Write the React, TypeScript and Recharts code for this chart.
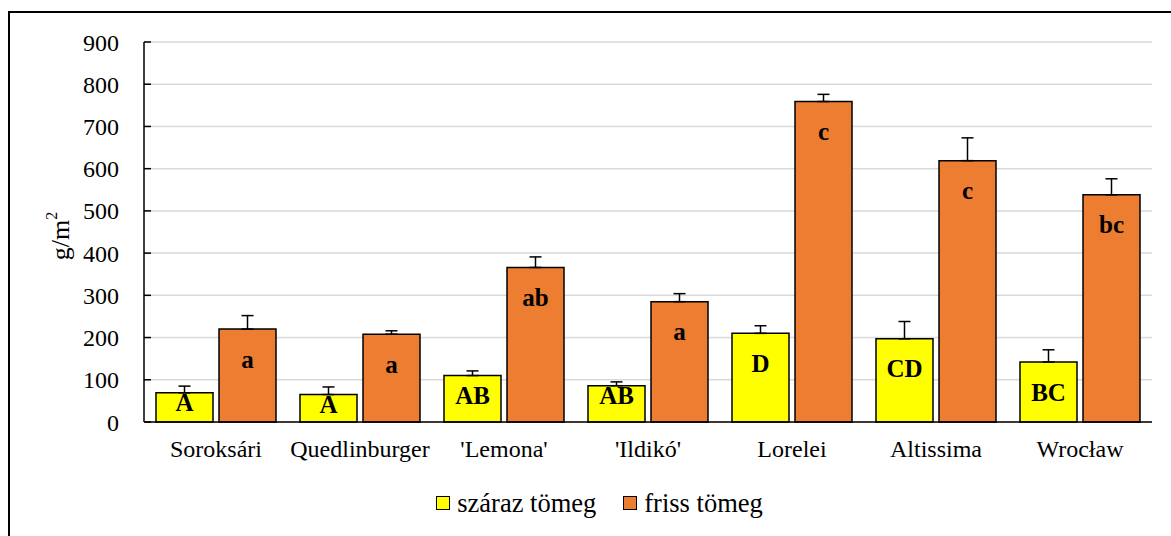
import React from "react";
import {
  BarChart,
  Bar,
  XAxis,
  YAxis,
  CartesianGrid,
  ErrorBar,
  LabelList,
  Legend,
} from "recharts";

const cultivars = [
  "Soroksári",
  "Quedlinburger",
  "'Lemona'",
  "'Ildikó'",
  "Lorelei",
  "Altissima",
  "Wrocław",
];
const dryMass = [69, 65, 110, 86, 210, 197, 142];
const dryErr = [16, 18, 11, 9, 18, 41, 29];
const dryLetters = ["A", "A", "AB", "AB", "D", "CD", "BC"];
const freshMass = [220, 208, 366, 285, 759, 619, 538];
const freshErr = [32, 8, 25, 19, 17, 54, 38];
const freshLetters = ["a", "a", "ab", "a", "c", "c", "bc"];
const yTicks = [0, 100, 200, 300, 400, 500, 600, 700, 800, 900];

const DRY = "#FFFF00";
const FRESH = "#ED7D31";
const FONT = '"Liberation Serif", "DejaVu Serif", serif';

const data = cultivars.map((name, i) => ({
  name,
  pos: i + 0.5,
  dry: dryMass[i],
  dryErr: [0, dryErr[i]],
  dryLetter: dryLetters[i],
  fresh: freshMass[i],
  freshErr: [0, freshErr[i]],
  freshLetter: freshLetters[i],
}));

// keeps the letter near the bar top, but inside short bars where possible
// eslint-disable-next-line @typescript-eslint/no-explicit-any
function LetterLabel(props: any) {
  const { x, y, width, height, value } = props;
  const bottom = y + height;
  const cy = Math.min(y + 30, Math.max(y + 10, bottom - 27));
  return (
    <text
      x={x + width / 2}
      y={cy}
      textAnchor="middle"
      dominantBaseline="central"
      style={{ fontFamily: FONT, fontWeight: "bold", fontSize: 25 }}
      fill="#000"
    >
      {value}
    </text>
  );
}

// eslint-disable-next-line @typescript-eslint/no-explicit-any
function YLabel({ viewBox }: any) {
  const cx = 60;
  const cy = viewBox.y + viewBox.height / 2 + 4;
  return (
    <text
      transform={`translate(${cx},${cy}) rotate(-90)`}
      textAnchor="middle"
      dominantBaseline="central"
      style={{ fontFamily: FONT, fontSize: 26 }}
      fill="#000"
    >
      g/m
      <tspan dy={-9} fontSize={16}>
        2
      </tspan>
    </text>
  );
}

function LegendBox() {
  const items = [
    { label: "száraz tömeg", color: DRY },
    { label: "friss tömeg", color: FRESH },
  ];
  return (
    <div
      style={{
        display: "flex",
        justifyContent: "center",
        alignItems: "center",
        height: 40,
        gap: 27,
        fontFamily: FONT,
        fontSize: 26.5,
        color: "#000",
        paddingRight: 17,
      }}
    >
      {items.map((it) => (
        <div key={it.label} style={{ display: "flex", alignItems: "center" }}>
          <span
            style={{
              display: "inline-block",
              width: 12,
              height: 12,
              background: it.color,
              border: "1.5px solid #000",
              marginRight: 7,
            }}
          />
          <span>{it.label}</span>
        </div>
      ))}
    </div>
  );
}

const tickStyle = { fontFamily: FONT, fontSize: 24, fill: "#000" };

export default function App() {
  return (
    <div
      style={{
        position: "absolute",
        left: 0,
        top: 0,
        width: 1171,
        height: 536,
        background: "#fff",
        overflow: "hidden",
        fontFamily: FONT,
      }}
    >
      <div
        style={{
          position: "absolute",
          left: 8,
          top: 11,
          width: 1170,
          height: 530,
          borderTop: "2px solid #000",
          borderLeft: "2px solid #000",
        }}
      />
      <BarChart
        width={1171}
        height={536}
        data={data}
        barCategoryGap={12}
        barGap={6}
        margin={{ top: 42, right: 19, left: 64, bottom: 13 }}
        style={{ position: "absolute", left: 0, top: 0, fontFamily: FONT }}
      >
        <CartesianGrid
          vertical={false}
          stroke="#d9d9d9"
          strokeWidth={1.5}
        />
        <XAxis
          dataKey="name"
          height={61}
          tickLine={false}
          tickSize={6}
          tickMargin={12}
          axisLine={{ stroke: "#000", strokeWidth: 1.5 }}
          tick={tickStyle}
          interval={0}
        />
        {/* second, numeric axis only to put tick marks on the category boundaries */}
        <XAxis
          xAxisId="bounds"
          type="number"
          dataKey="pos"
          domain={[0, 7]}
          ticks={[0, 1, 2, 3, 4, 5, 6, 7]}
          tickSize={-6}
          axisLine={false}
          tick={false}
          tickLine={{ stroke: "#000", strokeWidth: 1.5 }}
          height={0}
        />
        <YAxis
          width={80}
          domain={[0, 900]}
          ticks={yTicks}
          interval={0}
          tickSize={-7}
          tickMargin={32}
          axisLine={{ stroke: "#000", strokeWidth: 1.5 }}
          tickLine={{ stroke: "#000", strokeWidth: 1.5 }}
          tick={tickStyle}
          label={<YLabel />}
        />
        <Legend verticalAlign="bottom" content={<LegendBox />} />
        <Bar
          dataKey="dry"
          name="száraz tömeg"
          fill={DRY}
          stroke="#000"
          strokeWidth={1.5}
          isAnimationActive={false}
        >
          <ErrorBar
            dataKey="dryErr"
            direction="y"
            width={6}
            stroke="#000"
            strokeWidth={1.5}
            isAnimationActive={false}
          />
          <LabelList dataKey="dryLetter" content={<LetterLabel />} />
        </Bar>
        <Bar
          dataKey="fresh"
          name="friss tömeg"
          fill={FRESH}
          stroke="#000"
          strokeWidth={1.5}
          isAnimationActive={false}
        >
          <ErrorBar
            dataKey="freshErr"
            direction="y"
            width={6}
            stroke="#000"
            strokeWidth={1.5}
            isAnimationActive={false}
          />
          <LabelList dataKey="freshLetter" content={<LetterLabel />} />
        </Bar>
      </BarChart>
    </div>
  );
}
